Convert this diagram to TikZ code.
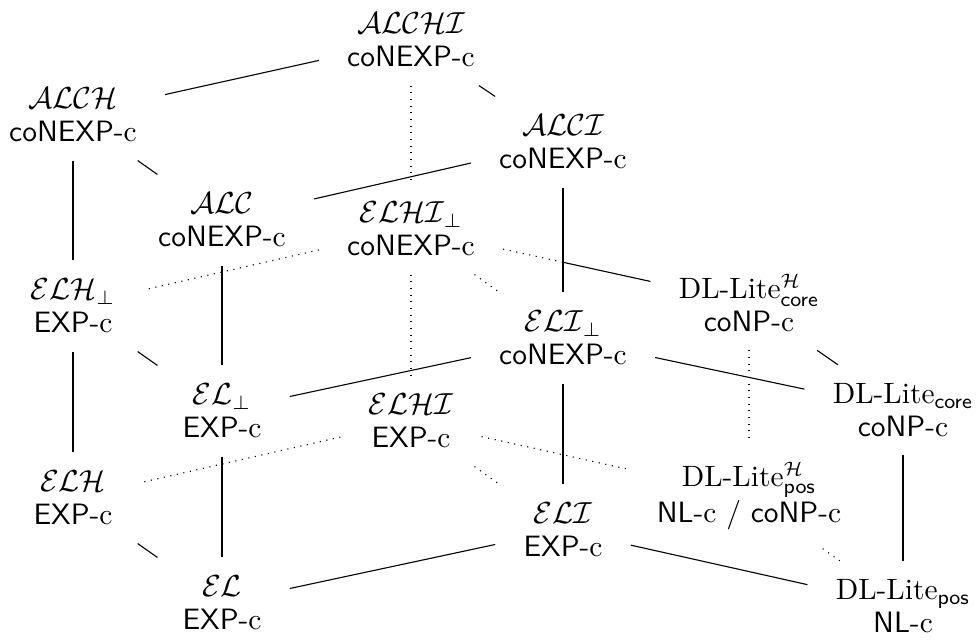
\documentclass[tikz,border=0pt]{standalone}
\usepackage{amsmath}
\begin{document}
\begin{tikzpicture}[x=0.36pt,y=-0.36pt,
  dl/.style={align=center,inner xsep=10pt,inner ysep=6.5pt,font=\fontsize{10.6}{11.8}\selectfont},
  back/.style={dotted},
  front/.style={line width=0.4pt}]
\useasboundingbox (0,0) rectangle (978,640);
\node[dl] (ALCHI) at (411,40) {$\mathcal{ALCHI}$\\\textsf{coNEXP}-c};
\node[dl] (ALCH) at (73,115) {$\mathcal{ALCH}$\\\textsf{coNEXP}-c};
\node[dl] (ALCI) at (563,142) {$\mathcal{ALCI}$\\\textsf{coNEXP}-c};
\node[dl] (ALC) at (222,220) {$\mathcal{ALC}$\\\textsf{coNEXP}-c};
\node[dl] (ELHIb) at (411,229) {$\mathcal{ELHI}_\bot$\\\textsf{coNEXP}-c};
\node[dl] (ELHb) at (73,306) {$\mathcal{ELH}_\bot$\\\textsf{EXP}-c};
\node[dl] (DLHcore) at (749,303) {DL-Lite$^{\mathcal{H}}_{\textsf{core}}$\\\textsf{coNP}-c};
\node[dl] (ELIb) at (563,338) {$\mathcal{ELI}_\bot$\\\textsf{coNEXP}-c};
\node[dl] (ELb) at (222,411) {$\mathcal{EL}_\bot$\\\textsf{EXP}-c};
\node[dl] (DLcore) at (903,410) {DL-Lite$_{\textsf{core}}$\\\textsf{coNP}-c};
\node[dl] (ELHI) at (411,421) {$\mathcal{ELHI}$\\\textsf{EXP}-c};
\node[dl] (ELH) at (73,498) {$\mathcal{ELH}$\\\textsf{EXP}-c};
\node[dl] (DLHpos) at (749,496) {DL-Lite$^{\mathcal{H}}_{\textsf{pos}}$\\\textsf{NL}-c / \textsf{coNP}-c};
\node[dl] (ELI) at (563,530) {$\mathcal{ELI}$\\\textsf{EXP}-c};
\node[dl] (EL) at (222,603) {$\mathcal{EL}$\\\textsf{EXP}-c};
\node[dl] (DLpos) at (903,606) {DL-Lite$_{\textsf{pos}}$\\\textsf{NL}-c};
% front (solid) edges
\draw[front] (ALCH) -- (ALCHI);
\draw[front] (ALCHI) -- (ALCI);
\draw[front] (ALCH) -- (ALC);
\draw[front] (ALC) -- (ALCI);
\draw[front] (ALCH) -- (ELHb);
\draw[front] (ALC) -- (ELb);
\draw[front] (ALCI) -- (ELIb);
\draw[front] (ELHb) -- (ELb);
\draw[front] (ELb) -- (ELIb);
\draw[front] (ELIb) -- (DLcore);
\draw[front] (DLHcore) -- (DLcore);
\draw[front] (ELHb) -- (ELH);
\draw[front] (ELb) -- (EL);
\draw[front] (ELIb) -- (ELI);
\draw[front] (ELH) -- (EL);
\draw[front] (EL) -- (ELI);
\draw[front] (ELI) -- (DLpos);
\draw[front] (DLcore) -- (DLpos);
% back (dotted) edges
\draw[back] (ALCHI) -- (ELHIb);
\draw[back] (ELHIb) -- (ELHI);
\draw[back] (ELHIb) -- (ELHb);
\draw[back] (ELHIb) -- (ELIb);
\coordinate (X) at (intersection of ELHIb--DLHcore and ALCI--ELIb);
\draw[back] (ELHIb) -- (X);
\draw[front] (X) -- (DLHcore);
\draw[back] (ELHI) -- (ELH);
\draw[back] (ELHI) -- (ELI);
\draw[back] (ELHI) -- (DLHpos);
\draw[back] (DLHcore) -- (DLHpos);
\draw[back] (DLHpos) -- (DLpos);
\end{tikzpicture}
\end{document}
